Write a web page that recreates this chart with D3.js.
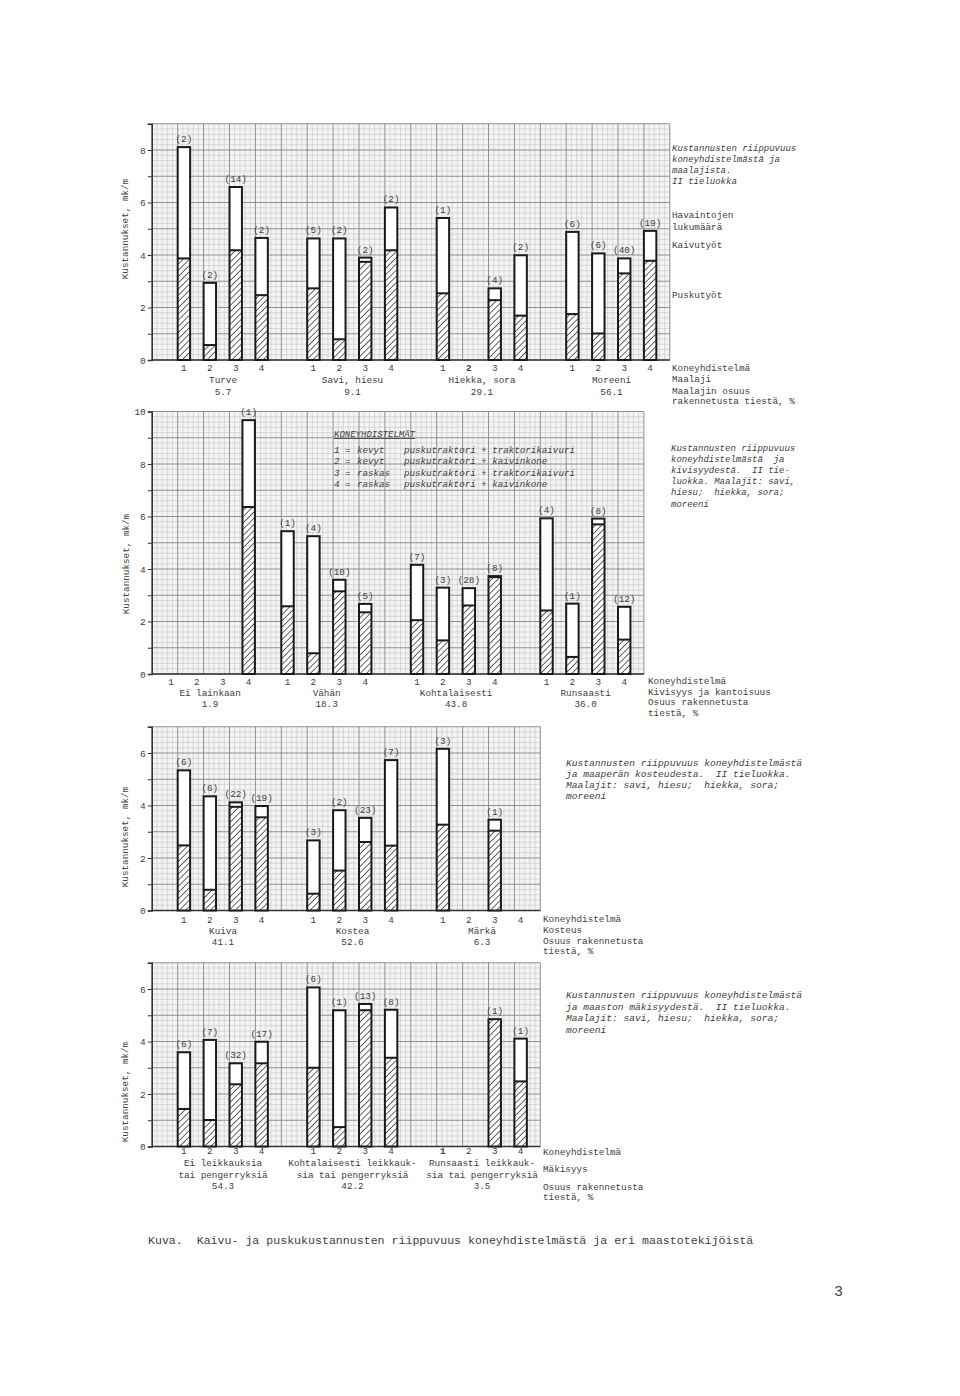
<!DOCTYPE html>
<html><head><meta charset="utf-8">
<script src="https://cdn.jsdelivr.net/npm/d3@7"></script>
<style>
html,body{margin:0;padding:0;background:#fff;}
svg text{font-family:"Liberation Mono","DejaVu Sans Mono",monospace;fill:#404040;}
</style></head><body>
<svg id="c" width="960" height="1396"></svg>
<script>
// ---------------- DATA ----------------
const combos = ["1","2","3","4"];

// Panel 1: maalaji
const p1GroupNames = [["Turve"],["Savi, hiesu"],["Hiekka, sora"],["Moreeni"]];
const p1Shares = ["5.7","9.1","29.1","56.1"];
const p1Total = [8.11,2.94,6.59,4.65, 4.63,4.63,3.90,5.81, 5.41,null,2.73,3.99, 4.88,4.06,3.87,4.92];
const p1Pusku = [3.87,0.57,4.18,2.47, 2.73,0.79,3.74,4.18, 2.54,null,2.28,1.69, 1.75,1.01,3.30,3.78];
const p1Count = ["2","2","14","2", "5","2","2","2", "1","","4","2", "6","6","40","19"];
const p1YTicks = [0,2,4,6,8];

// Panel 2: kivisyys ja kantoisuus
const p2GroupNames = [["Ei lainkaan"],["Vähän"],["Kohtalaisesti"],["Runsaasti"]];
const p2Shares = ["1.9","18.3","43.8","36.0"];
const p2Total = [null,null,null,9.67, 5.44,5.25,3.59,2.67, 4.16,3.29,3.27,3.73, 5.93,2.68,5.92,2.56];
const p2Pusku = [null,null,null,6.36, 2.58,0.79,3.15,2.35, 2.05,1.28,2.61,3.69, 2.42,0.65,5.70,1.31];
const p2Count = ["","","","1", "1","4","10","5", "7","3","28","8", "4","1","8","12"];
const p2YTicks = [0,2,4,6,8,10];

// Panel 3: kosteus
const p3GroupNames = [["Kuiva"],["Kostea"],["Märkä"]];
const p3Shares = ["41.1","52.6","6.3"];
const p3Total = [5.34,4.35,4.12,3.98, 2.67,3.82,3.53,5.73, 6.16,null,3.46,null];
const p3Pusku = [2.48,0.79,3.95,3.55, 0.64,1.52,2.61,2.47, 3.27,null,3.04,null];
const p3Count = ["6","6","22","19", "3","2","23","7", "3","","1",""];
const p3YTicks = [0,2,4,6];

// Panel 4: mäkisyys
const p4GroupNames = [["Ei leikkauksia","tai pengerryksiä"],["Kohtalaisesti leikkauk-","sia tai pengerryksiä"],["Runsaasti leikkauk-","sia tai pengerryksiä"]];
const p4Shares = ["54.3","42.2","3.5"];
const p4Total = [3.59,4.06,3.17,3.99, 6.06,5.19,5.43,5.21, null,null,4.85,4.11];
const p4Pusku = [1.43,1.01,2.37,3.17, 3.00,0.74,5.19,3.38, null,null,4.85,2.48];
const p4Count = ["6","7","32","17", "6","1","13","8", "","","1","1"];
const p4YTicks = [0,2,4,6];

const comboLegendTitle = "KONEYHDISTELMÄT";
const comboLegend = [["kevyt","puskutraktori + traktorikaivuri"],["kevyt","puskutraktori + kaivinkone"],["raskas","puskutraktori + traktorikaivuri"],["raskas","puskutraktori + kaivinkone"]];

const p1Note = ["Kustannusten riippuvuus","koneyhdistelmästä ja","maalajista.","II tieluokka"];
const p2Note = ["Kustannusten riippuvuus","koneyhdistelmästä  ja","kivisyydestä.  II tie-","luokka. Maalajit: savi,","hiesu;  hiekka, sora;","moreeni"];
const p3Note = ["Kustannusten riippuvuus koneyhdistelmästä","ja maaperän kosteudesta.  II tieluokka.","Maalajit: savi, hiesu;  hiekka, sora;","moreeni"];
const p4Note = ["Kustannusten riippuvuus koneyhdistelmästä","ja maaston mäkisyydestä.  II tieluokka.","Maalajit: savi, hiesu;  hiekka, sora;","moreeni"];

const p1Side = ["Koneyhdistelmä","Maalaji","Maalajin osuus","rakennetusta tiestä, %"];
const p2Side = ["Koneyhdistelmä","Kivisyys ja kantoisuus","Osuus rakennetusta","tiestä, %"];
const p3Side = ["Koneyhdistelmä","Kosteus","Osuus rakennetusta","tiestä, %"];
const p4Side = ["Koneyhdistelmä","Mäkisyys","Osuus rakennetusta","tiestä, %"];
const legendWords = ["Havaintojen","lukumäärä","Kaivutyöt","Puskutyöt"];
const yTitle = "Kustannukset, mk/m";
const caption = "Kuva.  Kaivu- ja puskukustannusten riippuvuus koneyhdistelmästä ja eri maastotekijöistä";
const pageNo = "3";

// ---------------- DRAW ----------------
const svg = d3.select("#c");
const defs = svg.append("defs");
const pat = defs.append("pattern").attr("id","hatch").attr("patternUnits","userSpaceOnUse")
  .attr("width",4.4).attr("height",4.4).attr("patternTransform","rotate(45)");
pat.append("rect").attr("width",4.4).attr("height",4.4).attr("fill","#fff");
pat.append("line").attr("x1",0).attr("y1",0).attr("x2",0).attr("y2",4.4).attr("stroke","#222").attr("stroke-width",1.4);

const LEFT = 151.8, XU = 25.9, YU = 26.25;
const isMajor = d => Math.abs(d - Math.round(d)) < 1e-6;

function panel(cfg){
  const g = svg.append("g");
  const x = d3.scaleLinear().domain([0,cfg.units]).range([LEFT, LEFT+cfg.units*XU]);
  const y = d3.scaleLinear().domain([0,cfg.yMax]).range([cfg.y0, cfg.y0-cfg.yMax*YU]);
  // graph paper background
  g.append("rect").attr("x",x(0)).attr("y",y(cfg.yMax)).attr("width",x(cfg.units)-x(0)).attr("height",y(0)-y(cfg.yMax)).attr("fill","#f4f4f4");
  const fine = d3.range(0, cfg.units*5+1).map(i=>i/5);
  const fineY = d3.range(0, cfg.yMax*5+1).map(i=>i/5);
  const drawGrid = (major)=>{
    g.selectAll(null).data(fine.filter(d=>isMajor(d)===major)).join("line").attr("x1",d=>x(d)).attr("x2",d=>x(d))
      .attr("y1",y(0)).attr("y2",y(cfg.yMax)).attr("stroke",major?"#858585":"#c6c6c6").attr("stroke-width",major?0.9:0.6);
    g.selectAll(null).data(fineY.filter(d=>isMajor(d)===major)).join("line").attr("y1",d=>y(d)).attr("y2",d=>y(d))
      .attr("x1",x(0)).attr("x2",x(cfg.units)).attr("stroke",major?"#858585":"#c6c6c6").attr("stroke-width",major?0.9:0.6);
  };
  drawGrid(false); drawGrid(true);
  // axes
  const ax = g.append("g").attr("transform",`translate(${x(0)},0)`)
    .call(d3.axisLeft(y).tickValues(d3.range(0,cfg.yMax+1)).tickSize(4)
      .tickFormat(d=>cfg.yTicks.includes(d)?String(d):""));
  ax.select(".domain").attr("stroke","#333").attr("stroke-width",1.4);
  ax.selectAll(".tick line").attr("stroke","#333");
  ax.selectAll(".tick text").style("font-family","'Liberation Mono',monospace").style("font-size","9.5px").attr("fill","#404040").attr("x",-6);
  g.append("line").attr("x1",x(0)).attr("x2",x(cfg.units)).attr("y1",y(0)).attr("y2",y(0)).attr("stroke","#333").attr("stroke-width",1.6);
  // y title
  g.append("text").attr("transform",`translate(${cfg.yTitleX},${cfg.yTitleY}) rotate(-90)`)
    .attr("text-anchor","middle").style("font-size","9.3px").text(yTitle);
  // bars
  const slot = (i)=> cfg.groupStart[Math.floor(i/4)] + (i%4);
  const items = cfg.total.map((t,i)=>({t, p:cfg.pusku[i], n:cfg.count[i], k:slot(i)})).filter(d=>d.t!=null);
  const bw = 0.48;
  g.selectAll(".top").data(items).join("rect").attr("x",d=>x(d.k)).attr("width",x(bw)-x(0))
    .attr("y",d=>y(d.t)).attr("height",d=>y(d.p)-y(d.t)).attr("fill","#fff");
  g.selectAll(".hat").data(items).join("rect").attr("x",d=>x(d.k)).attr("width",x(bw)-x(0))
    .attr("y",d=>y(d.p)).attr("height",d=>y(0)-y(d.p)).attr("fill","url(#hatch)");
  g.selectAll(".out").data(items).join("rect").attr("x",d=>x(d.k)).attr("width",x(bw)-x(0))
    .attr("y",d=>y(d.t)).attr("height",d=>y(0)-y(d.t)).attr("fill","none").attr("stroke","#1a1a1a").attr("stroke-width",2);
  g.selectAll(".div").data(items.filter(d=>d.p<d.t)).join("line").attr("x1",d=>x(d.k)).attr("x2",d=>x(d.k+bw))
    .attr("y1",d=>y(d.p)).attr("y2",d=>y(d.p)).attr("stroke","#1a1a1a").attr("stroke-width",2);
  g.selectAll(".cnt").data(items.filter(d=>d.n)).join("text").attr("x",d=>x(d.k+bw/2)).attr("y",d=>y(d.t)-5)
    .attr("text-anchor","middle").style("font-size","9.3px").text(d=>`(${d.n})`);
  // x labels
  cfg.groupStart.forEach((s,gi)=>{
    combos.forEach((c,ci)=>{
      const bold = cfg.bold && cfg.bold[0]===gi && cfg.bold[1]===ci;
      g.append("text").attr("x",x(s+ci+bw/2)).attr("y",cfg.rows[0]).attr("text-anchor","middle")
        .style("font-size","9.3px").style("font-weight",bold?"bold":"normal").attr("fill",bold?"#222":"#404040").text(c);
    });
    const cx = x(s + 1.75);
    cfg.names[gi].forEach((nm,li)=>{
      g.append("text").attr("x",cx).attr("y",cfg.rows[1+li]).attr("text-anchor","middle").style("font-size","9.3px").text(nm);
    });
    g.append("text").attr("x",cx).attr("y",cfg.rows[cfg.rows.length-1]).attr("text-anchor","middle").style("font-size","9.3px").text(cfg.shares[gi]);
  });
  // side labels
  cfg.side.forEach((t,i)=> g.append("text").attr("x",cfg.sideX).attr("y",cfg.sideY[i]).style("font-size","9.3px").text(t));
  cfg.note.forEach((t,i)=> g.append("text").attr("x",cfg.noteX).attr("y",cfg.noteY[i]).style("font-size",cfg.noteSize||"9px")
    .style("font-style","italic").attr("xml:space","preserve").style("white-space","pre").text(t));
  return {x,y,g};
}

panel({units:20, yMax:9, y0:360, yTicks:p1YTicks, groupStart:[1,6,11,16],
  total:p1Total, pusku:p1Pusku, count:p1Count, names:p1GroupNames, shares:p1Shares, bold:[2,1],
  rows:[370.5,383,395], side:p1Side, sideX:672, sideY:[370.5,382,394,404],
  note:p1Note, noteX:672, noteY:[150.5,161.5,173,184], yTitleX:128, yTitleY:229});
// extra legend words panel 1
[218,230,248,298].forEach((yy,i)=> svg.append("text").attr("x",672).attr("y",yy).style("font-size","9.3px").text(legendWords[i]));

panel({units:19, yMax:10, y0:674, yTicks:p2YTicks, groupStart:[0.5,5,10,15],
  total:p2Total, pusku:p2Pusku, count:p2Count, names:p2GroupNames, shares:p2Shares,
  rows:[685,695.5,706.5], side:p2Side, sideX:648, sideY:[684,694.5,705,715.5],
  note:p2Note, noteX:671, noteY:[451,461.5,472.5,484,495,506.5], yTitleX:129, yTitleY:564});
// combo legend
const lg = svg.append("g");
lg.append("text").attr("x",334).attr("y",437).style("font-size","9px").style("font-style","italic")
  .style("text-decoration","underline").text(comboLegendTitle);
comboLegend.forEach((r,i)=>{
  const yy = 453 + i*11.3;
  lg.append("text").attr("x",334).attr("y",yy).style("font-size","9.2px").style("font-style","italic").text(combos[i]);
  lg.append("text").attr("x",345).attr("y",yy).style("font-size","9.2px").style("font-style","italic").text("=");
  lg.append("text").attr("x",357).attr("y",yy).style("font-size","9.2px").style("font-style","italic").text(r[0]);
  lg.append("text").attr("x",404).attr("y",yy).style("font-size","9.2px").style("font-style","italic").text(r[1]);
});

panel({units:15, yMax:7, y0:910.5, yTicks:p3YTicks, groupStart:[1,6,11],
  total:p3Total, pusku:p3Pusku, count:p3Count, names:p3GroupNames, shares:p3Shares,
  rows:[923,934,945], side:p3Side, sideX:543, sideY:[922,933,943.5,954],
  note:p3Note, noteX:566, noteY:[766,777,788,799], noteSize:"9.6px", yTitleX:128, yTitleY:837});

panel({units:15, yMax:7, y0:1146.5, yTicks:p4YTicks, groupStart:[1,6,11],
  total:p4Total, pusku:p4Pusku, count:p4Count, names:p4GroupNames, shares:p4Shares, bold:[2,0],
  rows:[1154,1166,1177.5,1189], side:p4Side, sideX:543, sideY:[1155,1171.5,1190,1200],
  note:p4Note, noteX:566, noteY:[998,1010,1021,1033], noteSize:"9.6px", yTitleX:128, yTitleY:1092});

svg.append("text").attr("x",148).attr("y",1244).style("font-size","11.6px").attr("xml:space","preserve")
  .style("white-space","pre").attr("fill","#333").text(caption);
svg.append("text").attr("x",834).attr("y",1296).style("font-size","15px").attr("fill","#333").text(pageNo);
</script></body></html>
